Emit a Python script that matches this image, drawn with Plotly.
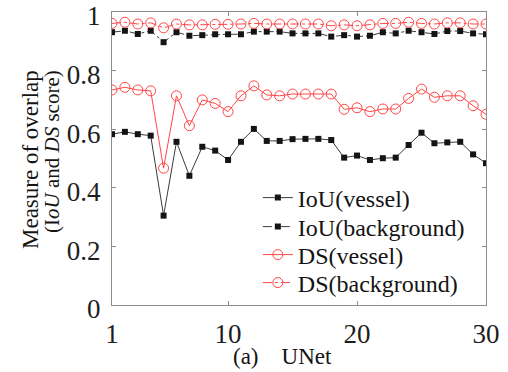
import plotly.graph_objects as go

x = list(range(1, 31))
iou_vessel = [0.583, 0.591, 0.583, 0.578, 0.305, 0.557, 0.441, 0.540, 0.527, 0.495,
              0.557, 0.601, 0.560, 0.560, 0.566, 0.567, 0.567, 0.563, 0.503, 0.510,
              0.495, 0.501, 0.503, 0.546, 0.588, 0.552, 0.555, 0.557, 0.514, 0.484]
iou_background = [0.931, 0.936, 0.925, 0.936, 0.897, 0.931, 0.919, 0.921, 0.924, 0.924,
                  0.924, 0.933, 0.933, 0.933, 0.927, 0.927, 0.927, 0.916, 0.921, 0.916,
                  0.919, 0.931, 0.927, 0.936, 0.931, 0.925, 0.935, 0.935, 0.927, 0.924]
ds_vessel = [0.734, 0.743, 0.734, 0.731, 0.467, 0.714, 0.612, 0.700, 0.688, 0.660,
             0.714, 0.748, 0.717, 0.714, 0.720, 0.720, 0.720, 0.720, 0.668, 0.673,
             0.660, 0.669, 0.669, 0.705, 0.737, 0.709, 0.714, 0.714, 0.680, 0.651]
ds_background = [0.961, 0.965, 0.959, 0.963, 0.946, 0.959, 0.956, 0.956, 0.958, 0.958,
                 0.959, 0.961, 0.959, 0.959, 0.959, 0.959, 0.959, 0.953, 0.956, 0.953,
                 0.956, 0.961, 0.961, 0.965, 0.961, 0.959, 0.963, 0.963, 0.959, 0.959]

series_names = ["IoU(vessel)", "IoU(background)", "DS(vessel)", "DS(background)"]
x_ticks = [1, 10, 20, 30]
y_ticks = [0, 0.2, 0.4, 0.6, 0.8, 1]
y_tick_labels = ["0", "0.2", "0.4", "0.6", "0.8", "1"]

RED = "rgb(255,70,70)"
BLK = "rgb(20,20,20)"
FONT = "Liberation Serif"

fig = go.Figure()
fig.add_trace(go.Scatter(x=x, y=iou_vessel, name=series_names[0], mode="lines+markers",
                         legend="legend",
                         line=dict(color="rgb(60,60,60)", width=1),
                         marker=dict(symbol="square", size=6, color=BLK)))
fig.add_trace(go.Scatter(x=x, y=iou_background, name=series_names[1], mode="lines+markers",
                         legend="legend2",
                         line=dict(color="rgb(60,60,60)", width=1, dash="dashdot"),
                         marker=dict(symbol="square", size=6, color=BLK)))
fig.add_trace(go.Scatter(x=x, y=ds_vessel, name=series_names[2], mode="lines+markers",
                         legend="legend3",
                         line=dict(color=RED, width=1),
                         marker=dict(symbol="circle-open", size=10, color=RED, line=dict(width=1))))
fig.add_trace(go.Scatter(x=x, y=ds_background, name=series_names[3], mode="lines+markers",
                         legend="legend4",
                         line=dict(color=RED, width=1, dash="dashdot"),
                         marker=dict(symbol="circle-open", size=10, color=RED, line=dict(width=1))))

axis_common = dict(showline=True, linecolor="rgb(140,140,140)", linewidth=1, mirror="ticks",
                   ticks="inside", ticklen=4, tickcolor="rgb(140,140,140)", showgrid=False,
                   zeroline=False, ticklabeloverflow="allow", ticklabelstandoff=5,
                   automargin=False,
                   tickfont=dict(family=FONT, size=27, color="rgb(30,30,30)"))

fig.update_xaxes(range=[1, 30], tickvals=x_ticks, **axis_common)
fig.update_yaxes(range=[0, 1], tickvals=y_ticks, ticktext=y_tick_labels, ticklabelshift=4,
                 **axis_common)


def leg(ypix):
    return dict(x=0.39, y=(305 - ypix) / 293, xanchor="left", yanchor="middle",
                font=dict(family=FONT, size=24, color="rgb(20,20,20)"),
                bgcolor="rgba(255,255,255,0)", borderwidth=0, itemwidth=30)


fig.update_layout(
    width=508, height=372,
    margin=dict(l=112, r=22, t=12, b=67, autoexpand=False),
    paper_bgcolor="white", plot_bgcolor="white",
    showlegend=True,
    legend=leg(198), legend2=leg(227), legend3=leg(255), legend4=leg(283),
    annotations=[
        dict(text="Measure of overlap", xref="paper", yref="paper", x=0, y=(305 - 160) / 293,
             xshift=-82, xanchor="center", yanchor="middle",
             textangle=-90, showarrow=False,
             font=dict(family=FONT, size=23, color="rgb(20,20,20)")),
        dict(text="(I<i>oU</i> and <i>DS</i> score)", xref="paper", yref="paper", x=0,
             y=(305 - 152) / 293, xshift=-60, xanchor="center", yanchor="middle",
             textangle=-90, showarrow=False,
             font=dict(family=FONT, size=21, color="rgb(20,20,20)")),
        dict(text="(a)    UNet", xref="paper", yref="paper", x=0.456, y=0, yshift=-51,
             xanchor="center", yanchor="middle", showarrow=False,
             font=dict(family=FONT, size=23, color="rgb(20,20,20)")),
    ],
)

fig.write_html("out.html", config={"displayModeBar": False},
               post_script="document.body.style.margin='0';")
